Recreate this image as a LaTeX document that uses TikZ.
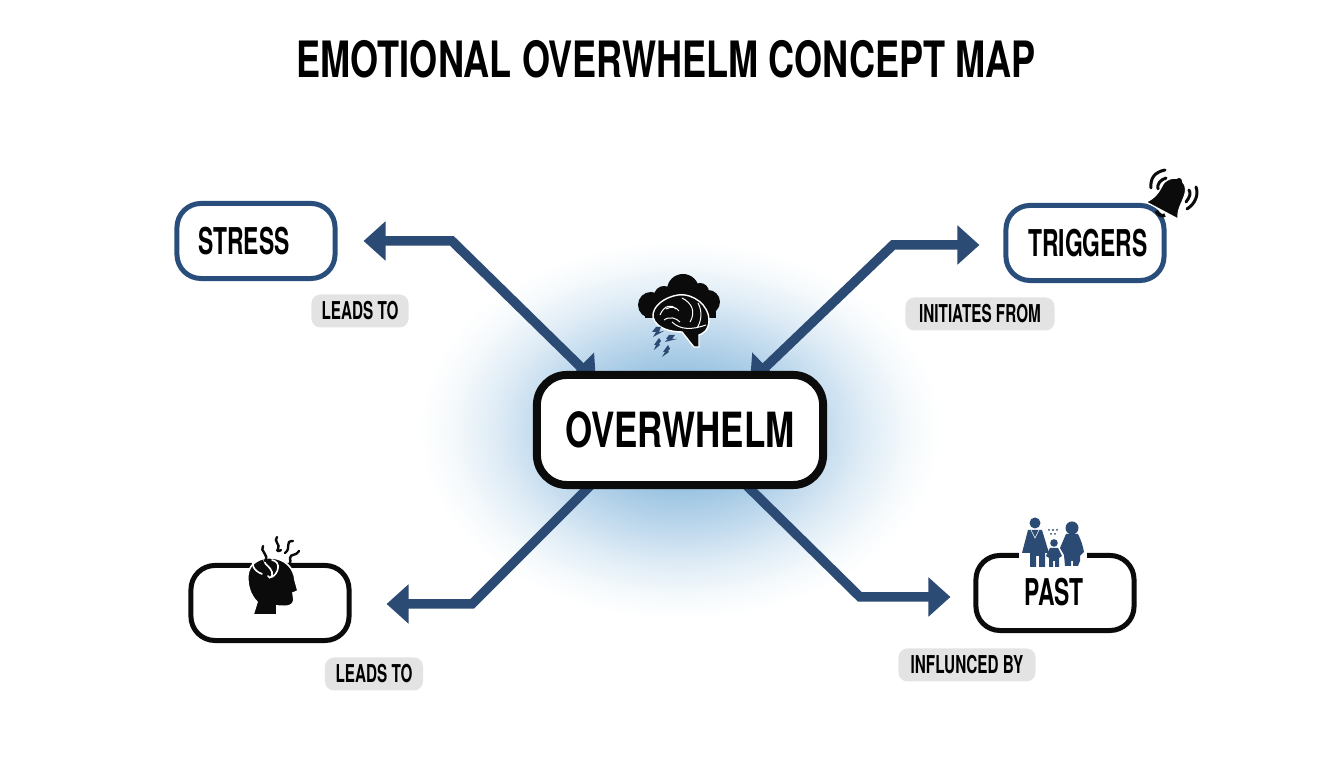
\documentclass[tikz,border=0pt]{standalone}
\usepackage{fontspec}
\newfontfamily\titlefont[FakeStretch=0.72]{TeX Gyre Heros}
\newfontfamily\namefont[FakeStretch=0.62]{TeX Gyre Heros}
\usetikzlibrary{arrows.meta,calc,backgrounds}
\definecolor{navy}{HTML}{2B4A74}
\definecolor{boxblue}{HTML}{2A4E7C}
\definecolor{pill}{HTML}{E3E3E3}
\definecolor{ink}{HTML}{0B0B0B}
\definecolor{glowa}{HTML}{8AB8DC}
\definecolor{glowb}{HTML}{96C1E0}
\definecolor{glowc}{HTML}{BCD7EC}
\definecolor{glowd}{HTML}{DFECF6}
\definecolor{glowe}{HTML}{F6FAFC}
\pgfdeclareradialshading{glow}{\pgfpoint{0bp}{0bp}}{color(0bp)=(glowa); color(7bp)=(glowb);
  color(12.7bp)=(glowc); color(17.7bp)=(glowd); color(22bp)=(glowe); color(25bp)=(white); color(50bp)=(white)}

\begin{document}
\begin{tikzpicture}[x=0.01cm,y=-0.01cm]
    \tikzset{concept/.style={rectangle,rounded corners=0.24cm,fill=white,draw=ink,line width=0.05cm,
      minimum width=1.58cm,minimum height=0.75cm,inner sep=0pt}}
    \tikzset{central/.style={concept,rounded corners=0.3cm,line width=0.08cm,minimum width=2.86cm,
      minimum height=1.1cm,font=\titlefont\bfseries\fontsize{13.8}{14}\selectfont}}
    \tikzset{nametext/.style={font=\namefont\bfseries\fontsize{10.5}{11}\selectfont}}
    \tikzset{relation/.style={rectangle,rounded corners=0.09cm,fill=pill,inner sep=0pt,minimum height=0.33cm,
      font=\namefont\bfseries\fontsize{7}{8}\selectfont}}
    \tikzset{link/.style={navy,line width=0.095cm,-{Triangle[length=0.22cm,width=0.38cm]}}}
    \tikzset{inlink/.style={navy,line width=0.095cm,{Triangle[length=0.22cm,width=0.38cm]}-{Triangle[length=0.22cm,width=0.38cm]}}}

    \useasboundingbox (0,0) rectangle (1344,768);

    \node[name=title,font=\titlefont\bfseries\fontsize{14.25}{14}\selectfont] at (666,59) {EMOTIONAL OVERWHELM CONCEPT MAP};

    \node[central,name=overwhelm] at (680,430) {OVERWHELM};
    \node[concept,name=stress,draw=boxblue] at (256,241) {};
    \node[nametext,name=stresstext] at (244,241) {STRESS};
    \node[concept,name=triggers,draw=boxblue] at (1085,243) {};
    \node[nametext,name=triggerstext] at (1088,243) {TRIGGERS};
    \node[concept,name=symptoms] at (270,603) {};
    \node[concept,name=past] at (1055,593) {};
    \node[nametext,name=pasttext] at (1054,592) {PAST};

    \node[relation,name=leadsa,minimum width=0.97cm] at (360,311) {LEADS TO};
    \node[relation,name=initiates,minimum width=1.49cm] at (980,314) {INITIATES FROM};
    \node[relation,name=leadsb,minimum width=0.98cm] at (374,674) {LEADS TO};
    \node[relation,name=influenced,minimum width=1.37cm] at (967,665) {INFLUNCED BY};

    % connectors, under the boxes
    \coordinate (stressbend) at (452,241);
    \coordinate (triggersbend) at (893,245);
    \coordinate (symptomsbend) at (472,604);
    \coordinate (pastbend) at (860,597);
    \begin{scope}[on background layer]
    \shade[shading=glow] (680,430) ellipse [x radius=262,y radius=190];
    \draw[inlink] ($(stress.east)+(26,0)$) -- (stressbend) -- ($(overwhelm.north)+(-84,11)$);
    \draw[inlink] ($(overwhelm.north)+(70,11)$) -- (triggersbend) -- ($(triggers.west)+(-24,2)$);
    \draw[link] ($(overwhelm.south)+(-80,-13)$) -- (symptomsbend) -- ($(symptoms.east)+(35,1)$);
    \draw[link] ($(overwhelm.south)+(60,-10)$) -- (pastbend) -- ($(past.west)+(-23,4)$);
    \end{scope}

    % brain in a cloud
    \fill[ink] (683,290) circle [radius=16] (651,305) circle [radius=13] (708,302) circle [radius=12]
      (664,296) circle [radius=10] (700,292) circle [radius=9];
    \fill[ink] (645,308) rectangle (716,318);
    \draw[white,fill=ink,line width=0.014cm] (653,317) .. controls (652,306) and (665,297) .. (678,295)
      .. controls (694,293) and (709,306) .. (709,320) .. controls (709,331) and (702,334) .. (699,335)
      -- (699,347) -- (694,347) .. controls (689,341) and (686,337) .. (682,332)
      .. controls (672,332) and (656,329) .. (653,317) -- cycle;
    \draw[white,line width=0.01cm] (660,315) .. controls (664,305) and (672,304) .. (676,309)
      (666,309) .. controls (672,306) and (676,307) .. (679,311)
      (682,298) .. controls (692,303) and (696,312) .. (690,322)
      (698,303) .. controls (703,312) and (701,322) .. (697,328)
      (672,322) .. controls (680,330) and (692,330) .. (706,325)
      (664,320) .. controls (670,316) and (676,318) .. (680,322);
    \fill[navy] (656,327) -- (661,327) -- (659,332) -- (664,331) -- (653,337) -- (656,332) -- (652,332) -- cycle
      (669,335) -- (675,335) -- (672,339) -- (677,339) -- (665,342) -- (668,339) -- (666,339) -- cycle
      (659,338) -- (661,341) -- (659,344) -- (660,345) -- (654,350) -- (656,345) -- (654,345) -- cycle
      (668,345) -- (670,349) -- (668,351) -- (669,352) -- (662,357) -- (665,352) -- (663,352) -- cycle;

    % bell
    \draw[white,fill=ink,line width=0.012cm] (1146,202) .. controls (1156,198) and (1160,190) .. (1163,184)
      .. controls (1167,178) and (1178,176) .. (1182,181) .. controls (1187,186) and (1186,192) .. (1184,197)
      .. controls (1182,203) and (1177,210) .. (1178,219) -- cycle;
    \fill[ink] (1179,181) circle [radius=3];
    \draw[ink,line width=0.035cm] (1156,211) .. controls (1158,215) and (1163,217) .. (1165,215);
    \draw[ink,line width=0.03cm,line cap=round] (1151,188) .. controls (1150,178) and (1155,172) .. (1165,170)
      (1158,189) .. controls (1157,184) and (1160,180) .. (1166,178)
      (1187,209) .. controls (1195,204) and (1199,195) .. (1196,187)
      (1186,202) .. controls (1190,197) and (1191,193) .. (1189,190);

    % head with steam
    \draw[white,fill=ink,line width=0.016cm] (253,615) -- (257,602) .. controls (250,595) and (247,585) .. (248,574)
      .. controls (250,562) and (262,557) .. (272,558) .. controls (285,559) and (294,568) .. (295,580)
      -- (298,591) -- (293,593) -- (294,600) .. controls (293,606) and (289,607) .. (277,606) -- (277,615) -- cycle;
    \draw[white,line width=0.016cm,line cap=round] (253,557) .. controls (252,564) and (252,570) .. (262,574)
      (264,560) .. controls (265,566) and (270,566) .. (272,572) .. controls (273,576) and (270,580) .. (268,576)
      (272,560) .. controls (282,562) and (278,574) .. (272,577);
    \draw[ink,line width=0.024cm,line cap=round] (263,546) .. controls (259,551) and (270,555) .. (265,561)
      (277,537) .. controls (273,541) and (281,545) .. (278,549) .. controls (276,551) and (279,552) .. (281,550)
      (293,541) .. controls (284,541) and (292,548) .. (285,553)
      (299,551) .. controls (295,557) and (291,553) .. (290,558) .. controls (289,561) and (292,561) .. (290,563);

    % family
    \fill[white] (1019,540) rectangle (1087,560);
    \fill[navy] (1035,523) circle [radius=5.5] (1054,543) circle [radius=3.8] (1072,528) circle [radius=6.5];
    \fill[navy] (1028,530) -- (1042,530) -- (1049,553) -- (1045,553) -- (1045,567) -- (1039,567) -- (1039,556)
      -- (1036,556) -- (1036,567) -- (1030,567) -- (1030,553) -- (1022,553) -- cycle;
    \fill[navy] (1050,548) -- (1058,548) -- (1062,556) -- (1059,558) -- (1059,567) -- (1055,567) -- (1055,561)
      -- (1053,561) -- (1053,567) -- (1049,567) -- (1049,558) -- (1046,556) -- cycle;
    \fill[navy] (1066,534) -- (1078,534) .. controls (1081,540) and (1083,546) .. (1084,552) -- (1080,556) -- (1080,561)
      -- (1078,566) -- (1073,566) -- (1073,561) -- (1071,561) -- (1071,566) -- (1065,566) -- (1064,555) -- (1060,548) -- cycle;
    \draw[white,line width=0.006cm] (1031,530) -- (1035,538) -- (1039,530);
    \fill[navy] (1049,530) circle [radius=1] (1053,530) circle [radius=1.2] (1057,530) circle [radius=1] (1051,534) circle [radius=1] (1055,534) circle [radius=1];
\end{tikzpicture}
\end{document}
